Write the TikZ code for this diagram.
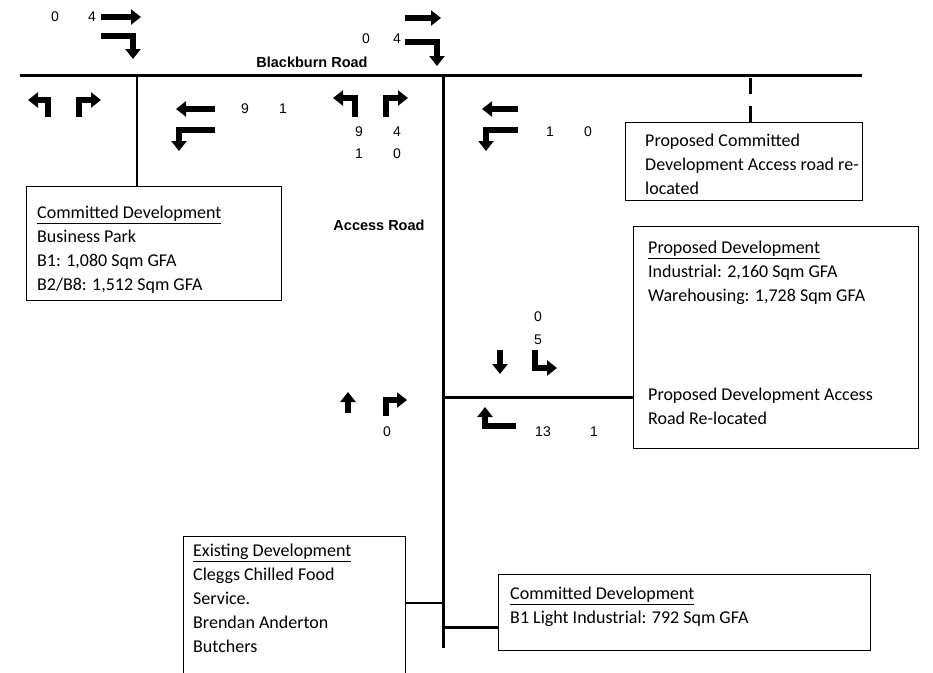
\documentclass[tikz,border=0pt]{standalone}
\usepackage{fontspec}
\setmainfont{Carlito}
\newfontfamily\arialfont{Liberation Sans}
\usetikzlibrary{arrows.meta, positioning, calc}

\tikzset{
  road/.style={line width=3pt},
  sideroad/.style={line width=2pt},
  flow/.style={line width=6pt, line join=miter, -{Triangle[width=15pt,length=10pt]}},
  devbox/.style={draw, line width=1pt, anchor=north west, inner sep=0pt},
  boxtext/.style={anchor=north west, align=left, inner sep=0pt, font=\fontsize{18}{24}\selectfont},
  countlbl/.style={font=\arialfont\fontsize{14}{14}\selectfont, inner sep=0pt},
  roadname/.style={font=\arialfont\bfseries\fontsize{14.5}{15}\selectfont, inner sep=0pt}
}

\begin{document}
\begin{tikzpicture}[x=1pt, y=-1pt]
    \useasboundingbox (0,0) rectangle (933,672);
    % development boxes
    \node[devbox, minimum width=237pt, minimum height=78pt] (rdev) at (625,122) {};
    \node[devbox, minimum width=255pt, minimum height=114pt] (cdev) at (26,186) {};
    \node[devbox, minimum width=285pt, minimum height=222pt] (pdev) at (633,226) {};
    \node[devbox, minimum width=222pt, minimum height=142pt] (edev) at (183,536) {};
    \node[devbox, minimum width=372pt, minimum height=76pt] (bdev) at (498,574) {};
    \node[boxtext] (rdevtxt) at ($(rdev.north west)+(20,12)$) {Proposed Committed\\Development Access road re-\\located};
    \node[boxtext] (cdevtxt) at ($(cdev.north west)+(11,20)$) {\underline{Committed Development}\\Business Park\\B1: 1,080 Sqm GFA\\B2/B8: 1,512 Sqm GFA};
    \node[boxtext] (pdevtxt) at ($(pdev.north west)+(15,15)$) {\underline{Proposed Development}\\Industrial: 2,160 Sqm GFA\\Warehousing: 1,728 Sqm GFA};
    \node[boxtext] (pacctxt) at ($(pdev.north west)+(15,162)$) {Proposed Development Access\\Road Re-located};
    \node[boxtext] (edevtxt) at ($(edev.north west)+(10,8)$) {\underline{Existing Development}\\Cleggs Chilled Food\\Service.\\Brendan Anderton\\Butchers};
    \node[boxtext] (bdevtxt) at ($(bdev.north west)+(12,13)$) {\underline{Committed Development}\\B1 Light Industrial: 792 Sqm GFA};

    % roads
    \coordinate (bbW) at (20,75);
    \coordinate (bbE) at (862,75);
    \coordinate (bbL) at (137,75);
    \coordinate (acT) at (443,75);
    \coordinate (acB) at (443,648);
    \coordinate (dj) at (750,75);
    \coordinate (pj) at (443,397);
    \coordinate (ej) at (443,603);
    \coordinate (bj) at (443,627);
    \draw[road] (bbW) -- (bbE);
    \draw[sideroad] (bbL) -- (bbL |- cdev.north);
    \draw[road] (acT) -- (acB);
    \draw[road, dash pattern=on 16pt off 12pt] (dj |- rdev.north) -- (dj);
    \draw[road] (pj) -- (pj -| pdev.west);
    \draw[sideroad] (ej -| edev.east) -- (ej);
    \draw[road] (bj) -- (bj -| bdev.west);
    \node[roadname] (bbname) at (312,62) {Blackburn Road};
    \node[roadname] (acname) at (379,225) {Access Road};

    % turning movements
    \draw[flow] (101,17) -- (141,17);
    \draw[flow] (101,36) -- (133,36) -- (133,59);
    \draw[flow] (405,18) -- (441,18);
    \draw[flow] (405,42) -- (437,42) -- (437,66);
    \draw[flow] (48,117) -- (48,100) -- (28,100);
    \draw[flow] (79,117) -- (79,100) -- (101,100);
    \draw[flow] (215,109) -- (176,109);
    \draw[flow] (215,130) -- (179,130) -- (179,151);
    \draw[flow] (355,117) -- (355,98) -- (333,98);
    \draw[flow] (386,117) -- (386,98) -- (408,98);
    \draw[flow] (518,109) -- (482,109);
    \draw[flow] (518,130) -- (486,130) -- (486,151);
    \draw[flow] (500,350) -- (500,374);
    \draw[flow] (535,350) -- (535,368) -- (557,368);
    \draw[flow] (348,413) -- (348,392);
    \draw[flow] (386,416) -- (386,400) -- (407,400);
    \draw[flow] (516,426) -- (485,426) -- (485,407);

    % counts
    \foreach \t/\x/\y [count=\i] in {0/55/17, 4/92/17, 0/366/39, 4/397/39, 9/245/109, 1/283/109,
        9/359/132, 4/397/132, 1/359/154, 0/397/154, 1/550/132, 0/588/132,
        0/538/317, 5/538/340, 0/387/432, 13/543/432, 1/594/432} {
      \node[countlbl] (c\i) at (\x,\y) {\t};
    }
\end{tikzpicture}
\end{document}
